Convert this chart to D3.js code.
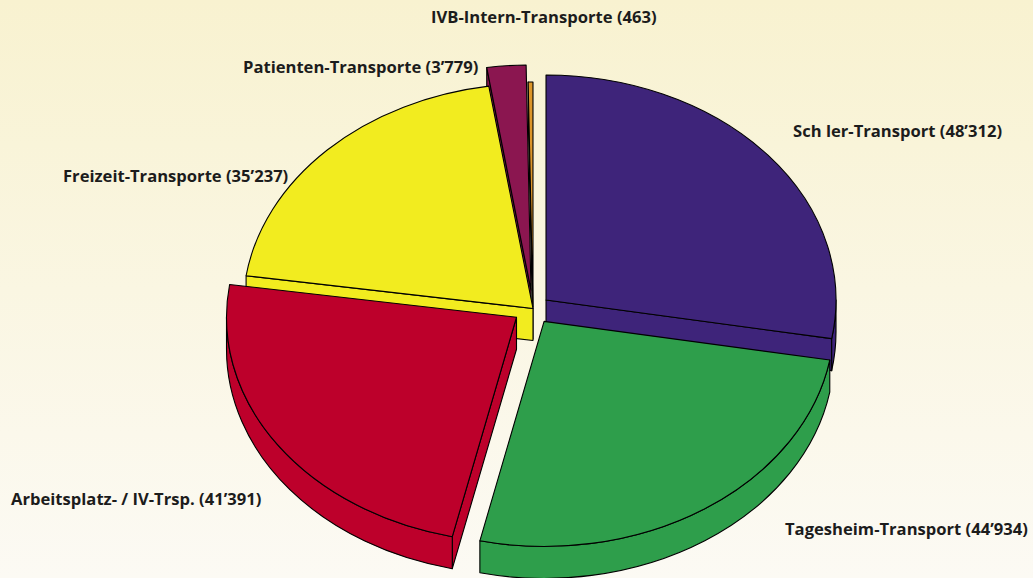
<!DOCTYPE html>
<html>
<head>
<meta charset="utf-8">
<script src="https://cdn.jsdelivr.net/npm/d3@7"></script>
<style>
  html, body { margin: 0; padding: 0; }
  svg { display: block; }
  .label { font-family: "Open Sans", Lato, sans-serif; font-weight: 700; font-size: 16.6px; fill: #1c1c1c; }
</style>
</head>
<body>
<svg id="chart" width="1033" height="578"></svg>
<script>
const categories = ["Sch ler-Transport", "Tagesheim-Transport", "Arbeitsplatz- / IV-Trsp.",
                    "Freizeit-Transporte", "Patienten-Transporte", "IVB-Intern-Transporte"];
const values = [48312, 44934, 41391, 35237, 3779, 463];
const colors = ["#3e247a", "#2e9e4b", "#bd002b", "#f2ec1f", "#8b1650", "#dc962a"];

const width = 1033, height = 578;
const cx = 533, cy = 308.5, rx = 290, ry = 225, depth = 32;
// how far each slice is pulled out
const explode = [17, 20, 20, 0, 24, 2];
// label anchors (left, baseline)
const labelPos = [[793, 137], [785, 535], [11, 505], [63, 182], [243, 73], [431, 23]];

const fmt = d3.formatLocale({decimal: ".", thousands: "\u2019", grouping: [3], currency: ["", ""]}).format(",d");

const svg = d3.select("#chart");

const grad = svg.append("defs").append("linearGradient")
    .attr("id", "bg").attr("x1", 0).attr("y1", 0).attr("x2", 0).attr("y2", 1);
grad.append("stop").attr("offset", "0%").attr("stop-color", "#f8f2d0");
grad.append("stop").attr("offset", "100%").attr("stop-color", "#fcfaf4");

svg.append("rect").attr("width", width).attr("height", height).attr("fill", "url(#bg)");

const arcs = d3.pie().sort(null).value(d => d)(values)
  .map((a, i) => {
    const mid = (a.startAngle + a.endAngle) / 2;
    return {
      ...a, i, mid,
      ox: cx + explode[i] * Math.sin(mid),
      oy: cy - explode[i] * Math.cos(mid) * (ry / rx)
    };
  });

function pt(d, a, dy = 0) {
  return [d.ox + rx * Math.sin(a), d.oy - ry * Math.cos(a) + dy];
}

function arcTo(p, a0, a1, sweep) {
  const large = Math.abs(a1 - a0) > Math.PI ? 1 : 0;
  return `A${rx},${ry} 0 ${large} ${sweep} ${p[0]},${p[1]}`;
}

function topPath(d) {
  const p0 = pt(d, d.startAngle), p1 = pt(d, d.endAngle);
  return `M${d.ox},${d.oy} L${p0[0]},${p0[1]} ${arcTo(p1, d.startAngle, d.endAngle, 1)} Z`;
}

function radialSide(d, a) {
  const p = pt(d, a), q = pt(d, a, depth);
  return `M${d.ox},${d.oy} L${p[0]},${p[1]} L${q[0]},${q[1]} L${d.ox},${d.oy + depth} Z`;
}

function wallPath(d) {
  const b0 = Math.max(d.startAngle, Math.PI / 2);
  const b1 = Math.min(d.endAngle, Math.PI * 1.5);
  if (b1 <= b0) return null;
  const p0 = pt(d, b0), p1 = pt(d, b1), q1 = pt(d, b1, depth), q0 = pt(d, b0, depth);
  return `M${p0[0]},${p0[1]} ${arcTo(p1, b0, b1, 1)} L${q1[0]},${q1[1]} ${arcTo(q0, b1, b0, 0)} Z`;
}

// back to front
const order = arcs.slice().sort((a, b) => (-Math.cos(a.mid)) - (-Math.cos(b.mid)));

const pie = svg.append("g");

order.forEach(d => {
  const g = pie.append("g");
  const style = sel => sel.attr("fill", colors[d.i]).attr("stroke", "#000")
      .attr("stroke-width", 1.1).attr("stroke-linejoin", "round");
  // side faces that face the viewer
  if (Math.sin(d.startAngle) < 0) g.append("path").attr("d", radialSide(d, d.startAngle)).call(style);
  if (Math.sin(d.endAngle) > 0) g.append("path").attr("d", radialSide(d, d.endAngle)).call(style);
  const w = wallPath(d);
  if (w) g.append("path").attr("d", w).call(style);
  g.append("path").attr("d", topPath(d)).call(style);
});

svg.append("g").selectAll("text")
  .data(arcs)
  .join("text")
    .attr("class", "label")
    .attr("x", d => labelPos[d.i][0])
    .attr("y", d => labelPos[d.i][1])
    .text(d => `${categories[d.i]} (${fmt(values[d.i])})`);
</script>
</body>
</html>
